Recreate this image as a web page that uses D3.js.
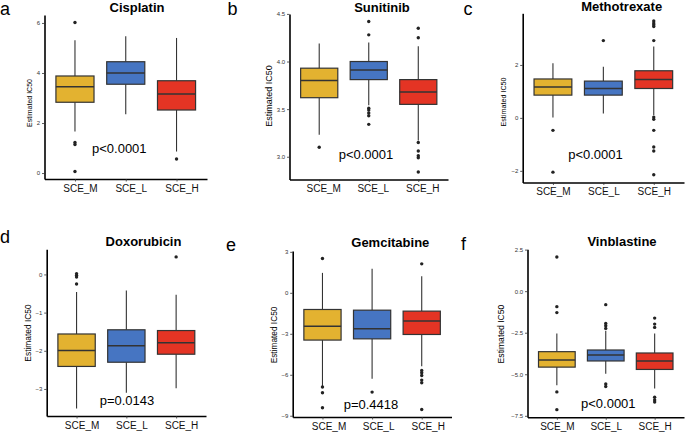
<!DOCTYPE html>
<html>
<head>
<meta charset="utf-8">
<script src="https://cdn.jsdelivr.net/npm/d3@7"></script>
<style>
html,body{margin:0;padding:0;background:#fff;}
svg{display:block;font-family:"Liberation Sans",Arial,Helvetica,sans-serif;}
</style>
</head>
<body>
<svg id="chart" width="685" height="433"></svg>
<script>
// ---------- DATA ----------
const groups = ["SCE_M", "SCE_L", "SCE_H"];
const groupColors = ["#E3B230", "#4675C2", "#E43424"];
const drugs = ["Cisplatin", "Sunitinib", "Methotrexate", "Doxorubicin", "Gemcitabine", "Vinblastine"];
const panelLetters = ["a", "b", "c", "d", "e", "f"];
const pLabels = ["p<0.0001", "p<0.0001", "p<0.0001", "p=0.0143", "p=0.4418", "p<0.0001"];

// box stats per group: [lower whisker, Q1, median, Q3, upper whisker]
const cisplatinStats    = [[1.66, 2.83, 3.45, 3.88, 5.31], [2.35, 3.55, 4.00, 4.45, 5.47], [0.86, 2.52, 3.16, 3.69, 5.40]];
const sunitinibStats    = [[3.23, 3.62, 3.80, 3.93, 4.19], [3.54, 3.81, 3.91, 4.00, 4.20], [3.17, 3.55, 3.68, 3.81, 4.16]];
const methotrexateStats = [[0.01, 0.86, 1.17, 1.47, 2.06], [0.17, 0.86, 1.11, 1.39, 1.93], [0.10, 1.11, 1.45, 1.78, 2.70]];
const doxorubicinStats  = [[-3.51, -2.41, -1.99, -1.56, -0.46], [-3.10, -2.30, -1.87, -1.45, -0.42], [-2.98, -2.09, -1.79, -1.47, -0.53]];
const gemcitabineStats  = [[-6.83, -3.46, -2.44, -1.22, 1.46], [-6.29, -3.37, -2.63, -1.27, 1.76], [-5.37, -3.05, -2.07, -1.34, 1.22]];
const vinblastineStats  = [[-5.66, -4.57, -4.14, -3.64, -2.55], [-4.97, -4.20, -3.84, -3.54, -2.38], [-5.86, -4.71, -4.20, -3.72, -2.55]];

// outliers per group
const cisplatinOutliers    = [[6.02, 1.22, 1.14, 0.06], [], [0.56]];
const sunitinibOutliers    = [[3.10], [4.42, 4.28, 3.51, 3.49, 3.46, 3.43, 3.34], [4.35, 4.25, 3.15, 3.06, 3.01, 2.99, 2.84]];
const methotrexateOutliers = [[-0.47, -2.05], [2.92], [3.66, 3.58, 3.52, 3.45, 2.92, 0.03, -0.05, -0.47, -1.10, -1.25, -2.15]];
const doxorubicinOutliers  = [[0.02, -0.03, -0.07, -0.25], [], [0.46]];
const gemcitabineOutliers  = [[2.51, -6.90, -7.32, -8.41], [-7.27], [2.12, -5.68, -5.85, -6.05, -6.39, -6.59, -8.54]];
const vinblastineOutliers  = [[2.06, -0.93, -1.29, -6.06, -7.13], [-0.81, -1.94, -2.08, -2.24, -5.58, -5.74], [-1.62, -1.98, -2.18, -6.38, -6.55, -6.67]];

// y tick values
const cisplatinTicks    = [0, 2, 4, 6];
const sunitinibTicks    = [3.0, 3.5, 4.0, 4.5];
const methotrexateTicks = [-2, 0, 2];
const doxorubicinTicks  = [-3, -2, -1, 0];
const gemcitabineTicks  = [-9, -6, -3, 0, 3];
const vinblastineTicks  = [-7.5, -5.0, -2.5, 0.0, 2.5];
const tickFormats = ["d", ".1f", "d", "d", "d", ".1f"];

const allStats = [cisplatinStats, sunitinibStats, methotrexateStats, doxorubicinStats, gemcitabineStats, vinblastineStats];
const allOutliers = [cisplatinOutliers, sunitinibOutliers, methotrexateOutliers, doxorubicinOutliers, gemcitabineOutliers, vinblastineOutliers];
const allTicks = [cisplatinTicks, sunitinibTicks, methotrexateTicks, doxorubicinTicks, gemcitabineTicks, vinblastineTicks];

// ---------- LAYOUT ----------
const layout = [
  {left: 44.5, right: 207,   top: 15,    bottom: 179,   titleX: 137,   titleY: 11.5, letterX: 0,     letterY: 15,  ytX: 29.5,  ytY: 103, ytSize: 7,   pX: 119.3, pY: 153,   shift: 5},
  {left: 289.5, right: 448,  top: 14,    bottom: 179.5, titleX: 382,   titleY: 11.5, letterX: 227.5, letterY: 15,  ytX: 269,   ytY: 96,  ytSize: 9,   pX: 366,   pY: 159.3, shift: 4},
  {left: 522.7, right: 684,  top: 13.3,  bottom: 182.5, titleX: 621.7, titleY: 11,   letterX: 463.5, letterY: 15,  ytX: 503.7, ytY: 102, ytSize: 7.2, pX: 595.5, pY: 159,   shift: 0},
  {left: 46.7, right: 206,   top: 249.3, bottom: 416,   titleX: 143.5, titleY: 245.5, letterX: 0,   letterY: 243, ytX: 28,    ytY: 333, ytSize: 8.4, pX: 127,   pY: 405,   shift: 5},
  {left: 292.7, right: 451.5,top: 251,   bottom: 417,   titleX: 390.3, titleY: 247, letterX: 226,   letterY: 251, ytX: 273.7, ytY: 335, ytSize: 8.3, pX: 371,   pY: 409,   shift: 6},
  {left: 527.5, right: 684,  top: 249.3, bottom: 417.3, titleX: 622,   titleY: 246, letterX: 461,   letterY: 250, ytX: 501.3, ytY: 334, ytSize: 8.6, pX: 608.3, pY: 407.7, shift: 0}
];

const svg = d3.select("#chart");

drugs.forEach((drug, i) => {
  const L = layout[i];
  const stats = allStats[i];
  const outs = allOutliers[i];
  const allVals = stats.flat().concat(outs.flat());
  const lo = d3.min(allVals), hi = d3.max(allVals);
  const pad = (hi - lo) * 0.05;
  const y = d3.scaleLinear().domain([lo - pad, hi + pad]).range([L.bottom, L.top]);
  const x = d3.scalePoint().domain(groups).range([L.left, L.right]).padding(0.6);
  const bw = x.step() * 0.75;

  const g = svg.append("g");

  // boxes
  groups.forEach((grp, j) => {
    const s = stats[j];
    const cx = x(grp);
    g.append("line").attr("x1", cx).attr("x2", cx).attr("y1", y(s[0])).attr("y2", y(s[1]))
      .attr("stroke", "#333").attr("stroke-width", 1.1);
    g.append("line").attr("x1", cx).attr("x2", cx).attr("y1", y(s[3])).attr("y2", y(s[4]))
      .attr("stroke", "#333").attr("stroke-width", 1.1);
    g.append("rect").attr("x", cx - bw / 2).attr("width", bw)
      .attr("y", y(s[3])).attr("height", y(s[1]) - y(s[3]))
      .attr("fill", groupColors[j]).attr("stroke", "#333").attr("stroke-width", 1.2);
    g.append("line").attr("x1", cx - bw / 2).attr("x2", cx + bw / 2).attr("y1", y(s[2])).attr("y2", y(s[2]))
      .attr("stroke", "#333").attr("stroke-width", 1.5);
    g.selectAll(null).data(outs[j]).enter().append("circle")
      .attr("cx", cx).attr("cy", d => y(d)).attr("r", 1.7).attr("fill", "#222");
  });

  // axes
  const yAxis = d3.axisLeft(y).tickValues(allTicks[i]).tickFormat(d3.format(tickFormats[i]))
    .tickSize(2.5).tickSizeOuter(0).tickPadding(1.8);
  const ya = g.append("g").attr("transform", `translate(${L.left},0)`).call(yAxis);
  ya.select(".domain").attr("stroke", "#000").attr("stroke-width", 1.6);
  ya.selectAll(".tick line").attr("stroke", "#333").attr("stroke-width", 0.8);
  ya.selectAll(".tick text").attr("font-size", 6).attr("fill", "#333").attr("font-family", "Liberation Sans, Arial, sans-serif");

  const xAxis = d3.axisBottom(x).tickSize(2.5).tickSizeOuter(0).tickPadding(3.2);
  const xa = g.append("g").attr("transform", `translate(0,${L.bottom})`).call(xAxis);
  xa.select(".domain").attr("stroke", "#000").attr("stroke-width", 1.6);
  xa.selectAll(".tick line").attr("stroke", "#333").attr("stroke-width", 0.8);
  xa.selectAll(".tick text").attr("font-size", 10).attr("fill", "#111").attr("dx", L.shift)
    .attr("font-family", "Liberation Sans, Arial, sans-serif");

  g.append("text").attr("x", L.titleX).attr("y", L.titleY).attr("text-anchor", "middle")
    .attr("font-size", 13).attr("font-weight", "bold").attr("fill", "#000").text(drug);

  g.append("text").attr("x", L.letterX).attr("y", L.letterY)
    .attr("font-size", 18).attr("fill", "#000").text(panelLetters[i]);

  g.append("text").attr("transform", `translate(${L.ytX},${L.ytY}) rotate(-90)`)
    .attr("text-anchor", "middle").attr("dy", "0.35em")
    .attr("font-size", L.ytSize).attr("fill", "#000").text("Estimated IC50");

  g.append("text").attr("x", L.pX).attr("y", L.pY).attr("text-anchor", "middle")
    .attr("font-size", 13).attr("fill", "#000").text(pLabels[i]);
});
</script>
</body>
</html>
